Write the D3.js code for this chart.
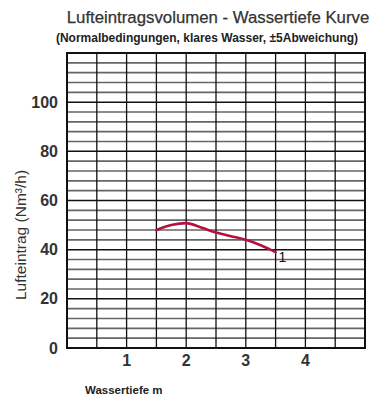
<!DOCTYPE html>
<html><head><meta charset="utf-8">
<script src="https://cdn.jsdelivr.net/npm/d3@7"></script>
<style>body{margin:0;background:#fff}svg{display:block;font-family:Arial,"Liberation Sans",sans-serif}</style>
</head><body>
<svg id="c" width="370" height="396"></svg>
<script>
const depth = [1.5, 1.75, 2.0, 2.25, 2.5, 2.75, 3.0, 3.25, 3.5];
const airflow = [48, 50, 50.8, 49, 47, 45.5, 44, 41.8, 39];
const xTicks = [1, 2, 3, 4];
const yTicks = [0, 20, 40, 60, 80, 100];
const seriesLabel = "1";

const svg = d3.select("#c");
const x = d3.scaleLinear().domain([0, 5]).range([67, 365]);
const y = d3.scaleLinear().domain([0, 120]).range([348, 53]);

// minor horizontal grid
const minorY = d3.range(0, 121, 4).filter(v => v % 20 !== 0);
svg.append("g").selectAll("line").data(minorY).join("line")
  .attr("x1", x(0)).attr("x2", x(5)).attr("y1", d => y(d)).attr("y2", d => y(d))
  .attr("stroke", "#666").attr("stroke-width", 1.7);
// major horizontal grid
svg.append("g").selectAll("line").data(d3.range(0, 121, 20)).join("line")
  .attr("x1", x(0)).attr("x2", x(5)).attr("y1", d => y(d)).attr("y2", d => y(d))
  .attr("stroke", "#111").attr("stroke-width", 1.5);
// vertical grid
svg.append("g").selectAll("line").data(d3.range(0, 5.01, 0.5)).join("line")
  .attr("x1", d => x(d)).attr("x2", d => x(d)).attr("y1", y(0)).attr("y2", y(120))
  .attr("stroke", "#111").attr("stroke-width", 1.3);
// frame
svg.append("rect").attr("x", x(0)).attr("y", y(120)).attr("width", x(5) - x(0)).attr("height", y(0) - y(120))
  .attr("fill", "none").attr("stroke", "#111").attr("stroke-width", 2);

// curve
const line = d3.line().x((d, i) => x(depth[i])).y(d => y(d)).curve(d3.curveMonotoneX);
svg.append("path").datum(airflow).attr("d", line)
  .attr("fill", "none").attr("stroke", "#b3123f").attr("stroke-width", 2.6).attr("stroke-linecap", "round");
svg.append("text").attr("x", x(depth[depth.length - 1]) + 3).attr("y", y(airflow[airflow.length - 1]) + 10)
  .attr("font-size", 14).attr("fill", "#111").text(seriesLabel);

// y ticks
svg.append("g").selectAll("text").data(yTicks).join("text")
  .attr("x", 58).attr("y", d => y(d) + 5.5).attr("text-anchor", "end")
  .attr("font-size", 16).attr("font-weight", "bold").attr("fill", "#333").text(d => d);
// x ticks
svg.append("g").selectAll("text").data(xTicks).join("text")
  .attr("x", d => x(d)).attr("y", 366).attr("text-anchor", "middle")
  .attr("font-size", 16).attr("font-weight", "bold").attr("fill", "#333").text(d => d);

// titles
svg.append("text").attr("x", 218).attr("y", 23).attr("text-anchor", "middle")
  .attr("font-size", 16.8).attr("fill", "#333").attr("stroke", "#333").attr("stroke-width", 0.25)
  .text("Lufteintragsvolumen - Wassertiefe Kurve");
svg.append("text").attr("x", 207).attr("y", 42).attr("text-anchor", "middle")
  .attr("font-size", 12).attr("font-weight", "bold").attr("fill", "#222").text("(Normalbedingungen, klares Wasser, ±5Abweichung)");
svg.append("text").attr("transform", "translate(26,235) rotate(-90)").attr("text-anchor", "middle")
  .attr("font-size", 15.5).attr("fill", "#333").text("Lufteintrag (Nm³/h)");
svg.append("text").attr("x", 85).attr("y", 394)
  .attr("font-size", 11.5).attr("font-weight", "bold").attr("fill", "#222").text("Wassertiefe m");
</script>
</body></html>
